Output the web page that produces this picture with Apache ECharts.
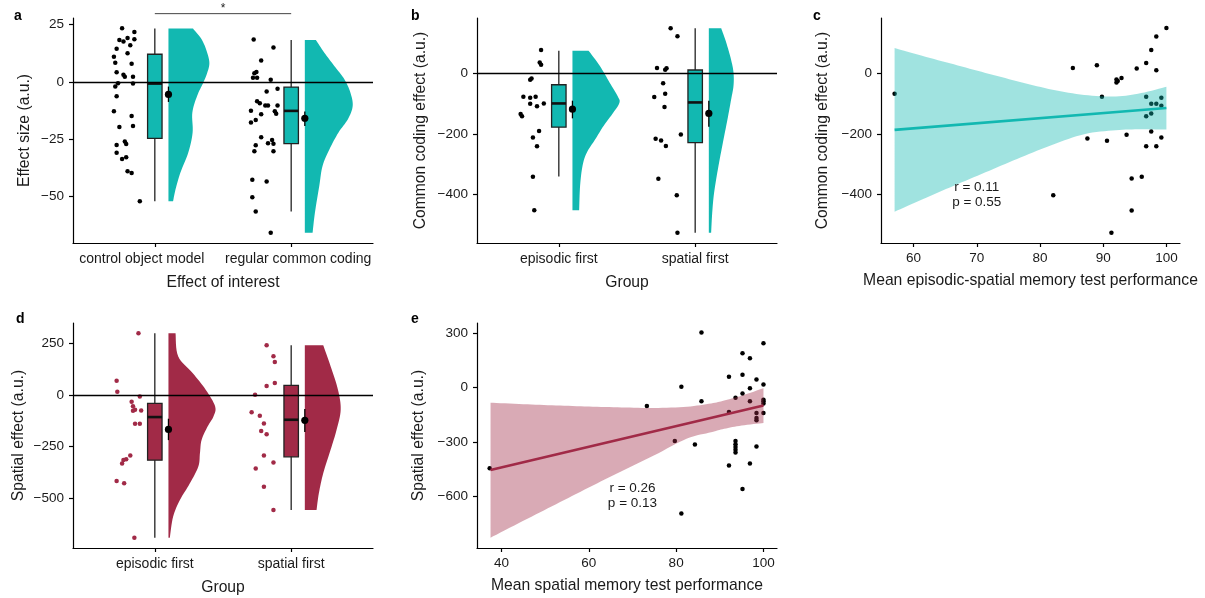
<!DOCTYPE html>
<html>
<head>
<meta charset="utf-8">
<script src="https://cdn.jsdelivr.net/npm/echarts@6/dist/echarts.min.js"></script>
<style>
  html, body { margin: 0; padding: 0; background: #fff; }
  #chart { width: 1205px; height: 598px; }
</style>
</head>
<body>
<div id="chart"></div>
<script>
// ---- data ----
const teal = '#12b8b1';
const crimson = '#a12a47';

// panel a
const catsA = ['control object model', 'regular common coding'];
const ticksA = [-50, -25, 0, 25];
// jitter points: [offset from category, value]
const jitterA1 = [[-0.24, 23.4], [-0.15, 21.8], [-0.26, 18.3], [-0.23, 17.7], [-0.20, 19.2], [-0.15, 18.6],
  [-0.28, 14.5], [-0.18, 16], [-0.20, 12.5], [-0.30, 11], [-0.29, 8.4], [-0.17, 8], [-0.28, 4.2],
  [-0.23, 3.2], [-0.22, 2.3], [-0.16, 2.3], [-0.27, -0.6], [-0.29, -2], [-0.16, -0.7], [-0.28, -6.2],
  [-0.30, -12.8], [-0.17, -14.8], [-0.16, -19.2], [-0.26, -19.6], [-0.28, -27.5], [-0.22, -26],
  [-0.21, -27], [-0.28, -30.8], [-0.21, -32.8], [-0.24, -33.6], [-0.20, -38.9], [-0.17, -39.7], [-0.11, -52]];
const jitterA2 = [[-0.275, 18.5], [-0.13, 15], [-0.22, 9.4], [-0.255, 4.4], [-0.27, 3.8], [-0.25, 1.9],
  [-0.28, 1.9], [-0.15, 1], [-0.10, -3], [-0.18, -4.2], [-0.25, -8.4], [-0.23, -9.3], [-0.19, -10.2],
  [-0.17, -10.2], [-0.10, -10.2], [-0.295, -12.5], [-0.12, -12.8], [-0.11, -13.8], [-0.22, -14.1],
  [-0.26, -16.6], [-0.295, -17.7], [-0.22, -24.1], [-0.14, -25.3], [-0.13, -26.9], [-0.17, -26.7],
  [-0.26, -27.6], [-0.27, -30.2], [-0.13, -30.2], [-0.285, -42.6], [-0.18, -43.4], [-0.285, -50.3],
  [-0.26, -56.5], [-0.15, -65.7]];
// half violins: [value, width]
const violinA1 = [[23.3, 0.18], [18.6, 0.243], [13.5, 0.28], [8.4, 0.30], [4.1, 0.285], [-0.3, 0.255],
  [-6.1, 0.21], [-13.4, 0.175], [-22.1, 0.177], [-30.8, 0.145], [-39.5, 0.088], [-46.8, 0.052], [-52, 0.034]];
const violinA2 = [[18.3, 0.081], [12.8, 0.143], [7, 0.216], [1.2, 0.29], [-4.6, 0.334], [-10.5, 0.351],
  [-16.3, 0.315], [-22.1, 0.246], [-29.4, 0.18], [-36.6, 0.13], [-45.3, 0.106], [-57, 0.074], [-65.7, 0.057]];
// boxes: [low, q1, median, q3, high]
const boxA = [[-52, -24.6, -0.7, 12.1, 23.3], [-56.5, -26.9, -12.6, -2.2, 18.3]];
// mean: [mean, lower, upper]
const meanA = [[-5.4, -8.7, -2], [-15.8, -19.2, -12.9]];
const sigA = [1, 2, 29.8];

// panel b
const catsB = ['episodic first', 'spatial first'];
const ticksB = [-400, -200, 0];
const jitterB1 = [[-0.13, 75.8], [-0.14, 35], [-0.13, 27.5], [-0.20, -17.6], [-0.21, -22], [-0.26, -78],
  [-0.21, -81], [-0.17, -78], [-0.21, -101], [-0.16, -109], [-0.11, -100], [-0.28, -135], [-0.27, -142],
  [-0.145, -191], [-0.19, -212], [-0.16, -241], [-0.19, -341], [-0.18, -451]];
const jitterB2 = [[-0.18, 147], [-0.13, 121], [-0.28, 16.5], [-0.22, 11], [-0.21, 15.4], [-0.235, -34],
  [-0.22, -68], [-0.30, -79], [-0.225, -112], [-0.29, -216.5], [-0.25, -222], [-0.215, -240],
  [-0.105, -202], [-0.27, -348], [-0.135, -402], [-0.13, -525]];
const violinB1 = [[73.6, 0.118], [24, 0.2], [-31, 0.272], [-75, 0.33], [-97, 0.345], [-130, 0.30],
  [-174, 0.228], [-218, 0.167], [-262, 0.105], [-305, 0.074], [-371, 0.056], [-451, 0.049]];
const violinB2 = [[147, 0.091], [101, 0.127], [46, 0.162], [2, 0.181], [-42, 0.181], [-86, 0.164],
  [-152, 0.137], [-218, 0.108], [-305, 0.071], [-393, 0.039], [-459, 0.025], [-525, 0.017]];
const boxB = [[-340, -178, -100, -38.5, 73.6], [-525, -228.6, -96.7, 10, 147]];
const meanB = [[-119, -149, -91], [-133, -177, -91]];

// panel c
const ticksCx = [60, 70, 80, 90, 100];
const ticksCy = [-400, -200, 0];
const pointsC = [[57.0, -68], [85.2, 16.5], [89.0, 26], [89.8, -78], [87.5, -215], [90.6, -223],
  [82.1, -402], [92.1, -21], [92.1, -31], [92.3, -26], [92.9, -16.5], [95.3, 15], [93.7, -203],
  [94.5, -347], [96.1, -341], [94.5, -452], [91.3, -525], [96.8, 33], [96.8, -78], [96.8, -142],
  [96.8, -241], [97.6, 76], [97.6, -101], [97.6, -133], [97.6, -192], [98.4, 120], [98.4, 9],
  [98.4, -101], [98.4, -241], [99.2, -81], [99.2, -108], [99.2, -212], [100, 148]];
const bandCx = [57, 62, 67, 72, 77, 82, 87, 92, 96, 100];
const bandClo = [-456, -410, -365, -321, -277, -236, -201, -188, -185, -186];
const bandChi = [82, 53, 25, -3, -30, -55, -72, -77, -66, -45];
const fitCx = [57, 100];
const fitCy = [-187, -115];
const statC = ['r = 0.11', 'p = 0.55'];

// panel d
const ticksD = [-500, -250, 0, 250];
const jitterD1 = [[-0.12, 300], [-0.28, 70], [-0.275, 16], [-0.11, -6.5], [-0.17, -32], [-0.16, -55],
  [-0.145, -71], [-0.16, -76], [-0.10, -75], [-0.145, -140], [-0.11, -140], [-0.18, -294],
  [-0.21, -312], [-0.23, -315], [-0.24, -333], [-0.28, -417], [-0.225, -429], [-0.15, -693]];
const jitterD2 = [[-0.18, 242], [-0.13, 188], [-0.12, 161], [-0.18, 44], [-0.12, 58], [-0.265, 1.6],
  [-0.29, -84], [-0.23, -100.6], [-0.20, -138], [-0.22, -175], [-0.18, -190], [-0.20, -294],
  [-0.13, -328], [-0.26, -357], [-0.20, -445], [-0.13, -558]];
const violinD1 = [[300, 0.052], [188, 0.071], [107, 0.177], [26, 0.273], [-55, 0.342], [-104, 0.33],
  [-153, 0.287], [-218, 0.243], [-282, 0.231], [-347, 0.219], [-429, 0.157], [-510, 0.084],
  [-591, 0.034], [-693, 0.01]];
const violinD2 = [[242, 0.135], [140, 0.189], [26, 0.243], [-71, 0.263], [-169, 0.233], [-266, 0.189],
  [-380, 0.135], [-477, 0.103], [-558, 0.086]];
const boxD = [[-693, -316.6, -107, -40.6, 300], [-558, -300, -120, 47, 242]];
const meanD = [[-167, -219, -115], [-123, -180, -68]];

// panel e
const ticksEx = [40, 60, 80, 100];
const ticksEy = [-600, -300, 0, 300];
const pointsE = [[37.3, -446], [73.3, -102], [79.7, -296], [81.2, 4], [81.2, -696], [84.3, -315],
  [85.8, 304], [85.8, -76], [92.1, 59], [92.1, -135], [92.1, -430], [93.6, -57], [93.6, -296],
  [93.6, -313], [93.6, -328], [93.6, -344], [93.6, -359], [95.2, 189], [95.2, 70], [95.2, -33],
  [95.2, -561], [96.9, 161], [96.9, -4], [96.9, -76], [96.9, -419], [98.4, 44], [98.4, -141],
  [98.4, -169], [98.4, -181], [98.4, -326], [100, 244], [100, 17], [100, -67], [100, -76],
  [100, -89], [100, -141]];
const bandEx = [37.5, 45, 52.5, 60, 67.5, 75, 82.5, 88, 91, 95, 100];
const bandElo = [-829, -736, -644, -552, -462, -374, -282, -247, -228, -210, -196];
const bandEhi = [-84, -92, -99, -105, -110, -113, -106, -88, -72, -45, -4];
const fitEx = [37.5, 100];
const fitEy = [-456, -100];
const statE = ['r = 0.26', 'p = 0.13'];

// ---- helpers ----
const font = "'Liberation Sans', Arial, sans-serif";
const ink = '#1a1a1a';
const minus = v => String(v).replace('-', '\u2212');

// smooth curve through pixel points (Catmull-Rom), only for drawing
function spline(p, n) {
  const out = [];
  for (let i = 0; i < p.length - 1; i++) {
    const p0 = p[i - 1] || p[i], p1 = p[i], p2 = p[i + 1], p3 = p[i + 2] || p[i + 1];
    for (let k = 0; k < n; k++) {
      const t = k / n, t2 = t * t, t3 = t2 * t;
      const f = j => 0.5 * (2 * p1[j] + (-p0[j] + p2[j]) * t +
        (2 * p0[j] - 5 * p1[j] + 4 * p2[j] - p3[j]) * t2 + (-p0[j] + 3 * p1[j] - 3 * p2[j] + p3[j]) * t3);
      out.push([f(0), f(1)]);
    }
  }
  out.push(p[p.length - 1]);
  return out;
}

const axisLineStyle = { show: true, onZero: false, lineStyle: { color: '#000', width: 1.2 } };
const nameStyle = { fontSize: 15.7, color: ink, fontFamily: font };

function xAxisCat(gi, cats, name, shift) {
  // labels sit a little off their ticks in the original, done with padding
  return {
    type: 'value', gridIndex: gi, min: 0.4, max: 2.6, name: name,
    nameLocation: 'middle', nameGap: 32, nameTextStyle: nameStyle,
    axisLine: axisLineStyle,
    axisTick: { show: true, customValues: [1, 2], length: 4, lineStyle: { color: '#000', width: 1.2 } },
    axisLabel: {
      customValues: [1, 2], margin: 9,
      formatter: v => (Math.round(v) === 1 ? '{l|' : '{r|') + cats[Math.round(v) - 1] + '}',
      rich: {
        l: { fontSize: 14, color: ink, fontFamily: font, padding: [0, shift[0], 0, 0] },
        r: { fontSize: 14, color: ink, fontFamily: font, padding: [0, 0, 0, shift[1]] }
      }
    },
    splitLine: { show: false }
  };
}
function xAxisVal(gi, min, max, ticks, name) {
  return {
    type: 'value', gridIndex: gi, min: min, max: max, name: name,
    nameLocation: 'middle', nameGap: 30, nameTextStyle: nameStyle,
    axisLine: axisLineStyle,
    axisTick: { show: true, customValues: ticks, length: 4, lineStyle: { color: '#000', width: 1.2 } },
    axisLabel: { customValues: ticks, formatter: minus, fontSize: 13.5, color: ink, fontFamily: font, margin: 8 },
    splitLine: { show: false }
  };
}
function yAxis(gi, min, max, ticks, name, gap) {
  return {
    type: 'value', gridIndex: gi, min: min, max: max, name: name,
    nameLocation: 'middle', nameGap: gap, nameTextStyle: nameStyle,
    axisLine: axisLineStyle,
    axisTick: { show: true, customValues: ticks, length: 4, lineStyle: { color: '#000', width: 1.2 } },
    axisLabel: { customValues: ticks, formatter: minus, fontSize: 13.5, color: ink, fontFamily: font, margin: 9 },
    splitLine: { show: false }
  };
}

function zeroLine(ai) {
  return {
    type: 'line', xAxisIndex: ai, yAxisIndex: ai, z: 10, data: [],
    markLine: {
      silent: true, symbol: 'none', label: { show: false },
      lineStyle: { color: '#000', width: 1.3, type: 'solid' },
      data: [{ yAxis: 0 }]
    }
  };
}

// raincloud pieces for one panel
function rainSeries(ai, jit1, jit2, violins, boxes, means, color, dotColor) {
  const pts = jit1.map(p => [1 + p[0], p[1]]).concat(jit2.map(p => [2 + p[0], p[1]]));
  return [
    {
      type: 'custom', xAxisIndex: ai, yAxisIndex: ai, z: 2,
      data: violins.map((v, i) => [i + 1, v[0][0]]),
      renderItem: (params, api) => {
        const v = violins[params.dataIndex];
        const base = params.dataIndex + 1.1;
        const edge = spline(v.map(p => api.coord([base + p[1], p[0]])), 8);
        const poly = [api.coord([base, v[0][0]])].concat(edge, [api.coord([base, v[v.length - 1][0]])]);
        return { type: 'polygon', shape: { points: poly }, style: { fill: color } };
      }
    },
    {
      type: 'custom', xAxisIndex: ai, yAxisIndex: ai, z: 3,
      data: boxes.map((b, i) => [i + 1, b[2]]),
      renderItem: (params, api) => {
        const b = boxes[params.dataIndex];
        const c = params.dataIndex + 1;
        const lo = api.coord([c, b[0]]), hi = api.coord([c, b[4]]);
        const tl = api.coord([c - 0.053, b[3]]), br = api.coord([c + 0.053, b[1]]);
        const ml = api.coord([c - 0.053, b[2]]), mr = api.coord([c + 0.053, b[2]]);
        return {
          type: 'group', children: [
            { type: 'line', shape: { x1: lo[0], y1: lo[1], x2: hi[0], y2: hi[1] }, style: { stroke: '#222', lineWidth: 1.3 } },
            { type: 'rect', shape: { x: tl[0], y: tl[1], width: br[0] - tl[0], height: br[1] - tl[1] }, style: { fill: color, stroke: '#222', lineWidth: 1.3 } },
            { type: 'line', shape: { x1: ml[0], y1: ml[1], x2: mr[0], y2: mr[1] }, style: { stroke: '#111', lineWidth: 2.6 } }
          ]
        };
      }
    },
    {
      type: 'scatter', xAxisIndex: ai, yAxisIndex: ai, z: 4,
      symbolSize: 4.5, itemStyle: { color: dotColor, opacity: 1 }, data: pts
    },
    {
      type: 'custom', xAxisIndex: ai, yAxisIndex: ai, z: 5,
      data: means.map((m, i) => [i + 1.1, m[0]]),
      renderItem: (params, api) => {
        const m = means[params.dataIndex];
        const x = params.dataIndex + 1.1;
        const a = api.coord([x, m[1]]), b = api.coord([x, m[2]]), c = api.coord([x, m[0]]);
        return {
          type: 'group', children: [
            { type: 'line', shape: { x1: a[0], y1: a[1], x2: b[0], y2: b[1] }, style: { stroke: '#000', lineWidth: 1.3 } },
            { type: 'circle', shape: { cx: c[0], cy: c[1], r: 3.6 }, style: { fill: '#000' } }
          ]
        };
      }
    },
    zeroLine(ai)
  ];
}

function regSeries(ai, pts, bx, blo, bhi, fx, fy, stat, color, textAt) {
  return [
    {
      type: 'scatter', xAxisIndex: ai, yAxisIndex: ai, z: 2,
      symbolSize: 4.5, itemStyle: { color: '#000', opacity: 1 }, data: pts
    },
    {
      type: 'custom', xAxisIndex: ai, yAxisIndex: ai, z: 3,
      data: [[bx[0], blo[0]]],
      renderItem: (params, api) => {
        const up = spline(bx.map((x, i) => api.coord([x, bhi[i]])), 8);
        const dn = spline(bx.map((x, i) => api.coord([x, blo[i]])), 8).reverse();
        return { type: 'polygon', shape: { points: up.concat(dn) }, style: { fill: color, opacity: 0.4 } };
      }
    },
    {
      type: 'line', xAxisIndex: ai, yAxisIndex: ai, z: 4, symbol: 'none',
      lineStyle: { color: color, width: 2.6 },
      data: fx.map((x, i) => [x, fy[i]])
    },
    {
      type: 'custom', xAxisIndex: ai, yAxisIndex: ai, z: 5,
      data: [textAt],
      renderItem: (params, api) => {
        const c = api.coord(textAt);
        return {
          type: 'text', x: c[0], y: c[1],
          style: { text: stat.join('\n'), fill: ink, font: '13.5px ' + font, align: 'center', verticalAlign: 'middle', lineHeight: 15 }
        };
      }
    }
  ];
}

const chart = echarts.init(document.getElementById('chart'));

const option = {
  animation: false,
  backgroundColor: '#fff',
  title: [
    { text: 'a', left: 14, top: 9 },
    { text: 'b', left: 411, top: 9 },
    { text: 'c', left: 813, top: 9 },
    { text: 'd', left: 16, top: 312 },
    { text: 'e', left: 411, top: 312 }
  ].map(t => Object.assign(t, { padding: 0, textStyle: { fontSize: 14, fontWeight: 'bold', color: '#000', fontFamily: font } })),
  grid: [
    { left: 73, top: 18, width: 300, height: 225 },
    { left: 477, top: 18, width: 300, height: 225 },
    { left: 881, top: 18, width: 299, height: 225 },
    { left: 73, top: 323, width: 300, height: 225 },
    { left: 477, top: 323, width: 300, height: 225 }
  ],
  xAxis: [
    xAxisCat(0, catsA, 'Effect of interest', [26, 14]),
    xAxisCat(1, catsB, 'Group', [0, 0]),
    xAxisVal(2, 54.85, 102.15, ticksCx, 'Mean episodic-spatial memory test performance'),
    xAxisCat(3, catsB, 'Group', [0, 0]),
    xAxisVal(4, 34.4, 103.1, ticksEx, 'Mean spatial memory test performance')
  ],
  yAxis: [
    yAxis(0, -70.2, 27.9, ticksA, 'Effect size (a.u.)', 40),
    yAxis(1, -559, 181, ticksB, 'Common coding effect (a.u.)', 48),
    yAxis(2, -559, 181, ticksCy, 'Common coding effect (a.u.)', 50),
    yAxis(3, -743, 350, ticksD, 'Spatial effect (a.u.)', 46),
    yAxis(4, -886, 356, ticksEy, 'Spatial effect (a.u.)', 50)
  ],
  series: [].concat(
    rainSeries(0, jitterA1, jitterA2, [violinA1, violinA2], boxA, meanA, teal, '#000'),
    [{
      // significance bracket above panel a
      type: 'custom', xAxisIndex: 0, yAxisIndex: 0, z: 6, clip: false,
      data: [[sigA[0], sigA[2]]],
      renderItem: (params, api) => {
        const a = api.coord([sigA[0], sigA[2]]), b = api.coord([sigA[1], sigA[2]]);
        return {
          type: 'group', children: [
            { type: 'line', shape: { x1: a[0], y1: a[1], x2: b[0], y2: b[1] }, style: { stroke: '#444', lineWidth: 1 } },
            { type: 'text', x: (a[0] + b[0]) / 2, y: a[1] + 1, style: { text: '*', fill: ink, font: '12px ' + font, align: 'center', verticalAlign: 'bottom' } }
          ]
        };
      }
    }],
    rainSeries(1, jitterB1, jitterB2, [violinB1, violinB2], boxB, meanB, teal, '#000'),
    regSeries(2, pointsC, bandCx, bandClo, bandChi, fitCx, fitCy, statC, teal, [70, -400]),
    rainSeries(3, jitterD1, jitterD2, [violinD1, violinD2], boxD, meanD, crimson, crimson),
    regSeries(4, pointsE, bandEx, bandElo, bandEhi, fitEx, fitEy, statE, crimson, [70, -600])
  )
};

chart.setOption(option);
window.addEventListener('resize', () => chart.resize());
</script>
</body>
</html>
